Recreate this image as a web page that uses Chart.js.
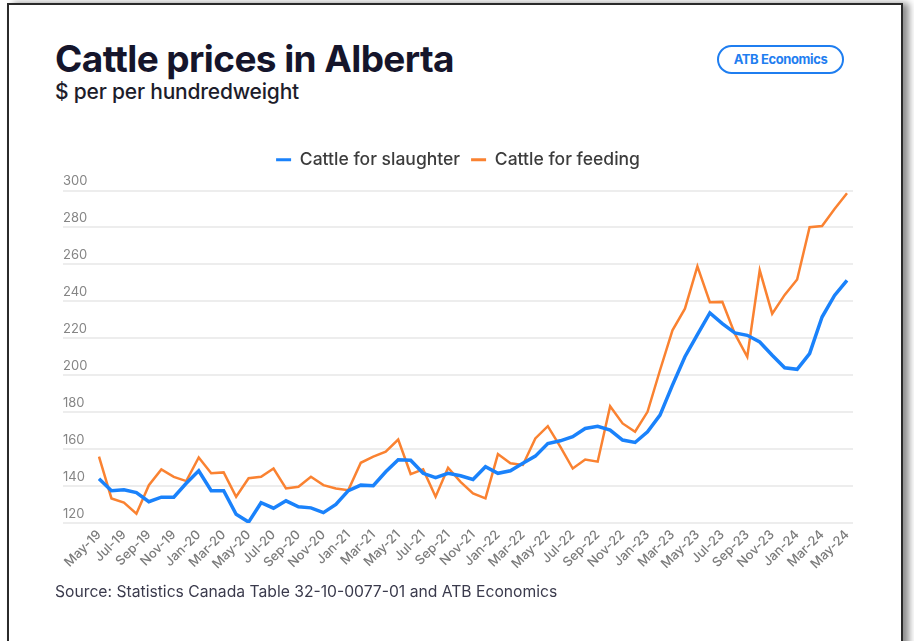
<!DOCTYPE html>
<html><head><meta charset="utf-8">
<script src="https://cdn.jsdelivr.net/npm/chart.js@4.4.1/dist/chart.umd.min.js"></script>
<style>
html,body{margin:0;padding:0;background:#fff;width:914px;height:641px;overflow:hidden;font-family:Inter,'Open Sans',sans-serif;}
#frame{position:absolute;left:7px;top:3px;width:892px;height:700px;border:2px solid #2a2a2a;box-shadow:6px 0 7px rgba(0,0,0,0.45);background:#fff;}
#title{position:absolute;left:55px;top:36px;font-weight:700;font-size:37px;color:#15152b;letter-spacing:-0.6px;white-space:nowrap;}
#subtitle{position:absolute;left:55px;top:79px;font-weight:500;font-size:21px;color:#1d1d2b;white-space:nowrap;letter-spacing:-0.2px;}
#badge{position:absolute;left:717px;top:45px;width:123px;height:25px;border:2px solid #1f7ef0;border-radius:16px;color:#1f7ef0;font-weight:700;font-size:13px;line-height:25px;text-align:center;letter-spacing:-0.4px;}
#source{position:absolute;left:55px;top:582px;font-size:15.7px;color:#3a3a4c;white-space:nowrap;}
#wrap{position:absolute;left:0;top:130px;width:914px;height:460px;}
</style></head>
<body>
<div id="frame"></div>
<div id="title">Cattle prices in Alberta</div>
<div id="subtitle">$ per per hundredweight</div>
<div id="badge">ATB Economics</div>
<div id="wrap"><canvas id="c" width="914" height="460"></canvas></div>
<div id="source">Source: Statistics Canada Table 32-10-0077-01 and ATB Economics</div>
<script>
const months = ['May-19','Jun-19','Jul-19','Aug-19','Sep-19','Oct-19','Nov-19','Dec-19',
'Jan-20','Feb-20','Mar-20','Apr-20','May-20','Jun-20','Jul-20','Aug-20','Sep-20','Oct-20','Nov-20','Dec-20',
'Jan-21','Feb-21','Mar-21','Apr-21','May-21','Jun-21','Jul-21','Aug-21','Sep-21','Oct-21','Nov-21','Dec-21',
'Jan-22','Feb-22','Mar-22','Apr-22','May-22','Jun-22','Jul-22','Aug-22','Sep-22','Oct-22','Nov-22','Dec-22',
'Jan-23','Feb-23','Mar-23','Apr-23','May-23','Jun-23','Jul-23','Aug-23','Sep-23','Oct-23','Nov-23','Dec-23',
'Jan-24','Feb-24','Mar-24','Apr-24','May-24'];
const slaughter = [144,137.5,138,136.5,131.5,134,134,141.5,148.3,137.5,137.5,124.7,120.5,131,128,132,128.8,128.2,125.6,130,
137.5,140.5,140.2,147.7,154.2,154,146.9,144.5,146.9,145.6,143.6,150.5,146.9,148.3,152.3,156.2,163,164.5,166.7,171.2,
172.4,170.3,164.9,163.6,169.4,178.4,194.6,210,222,233.7,227.9,222.9,221.6,218,210.8,204,203.2,211.7,231.5,243.2,251.4];
const feeding = [155.9,133.3,131,125,140.5,149,145,142.7,155.5,146.9,147.4,134.2,144.2,145,149.5,138.7,139.6,145,140.5,138.7,
137.8,152.6,155.9,158.6,165.2,146.5,149,134.2,149.9,142.3,136,133.3,157.3,152.3,151.4,165.8,172.4,161.3,149.5,154.4,
153.2,183.2,173.9,169.4,180.2,202.7,224.3,236,258.9,239.5,239.7,222.5,210,256.8,233.3,243.5,251.8,280.1,280.8,290,298.5];
const yTicks = [120,140,160,180,200,220,240,260,280,300];
const seriesNames = ['Cattle for slaughter','Cattle for feeding'];

const gridColor = '#ededed';
const legendSpacer = {
  id: 'legendSpacer',
  beforeInit(chart) {
    const orig = chart.legend.fit;
    chart.legend.fit = function () { orig.call(this); this.height += 12; };
  }
};

new Chart(document.getElementById('c'), {
  type: 'line',
  data: {
    labels: months,
    datasets: [
      {label: seriesNames[0], data: slaughter, borderColor: '#1a82fb', backgroundColor: '#1a82fb', borderWidth: 3.5, pointRadius: 0, tension: 0},
      {label: seriesNames[1], data: feeding, borderColor: '#fa8231', backgroundColor: '#fa8231', borderWidth: 2.5, pointRadius: 0, tension: 0}
    ]
  },
  plugins: [legendSpacer],
  options: {
    responsive: false,
    animation: false,
    layout: {padding: {left: 63, right: 61, top: 10, bottom: 0}},
    plugins: {
      tooltip: {enabled: false},
      legend: {
        position: 'top',
        labels: {
          boxWidth: 15, boxHeight: 3, padding: 11,
          color: '#3c3c3c',
          font: {family: 'Inter', size: 17.5, weight: '500'},
          generateLabels: (chart) => chart.data.datasets.map((ds, i) => ({
            text: ds.label, fillStyle: ds.borderColor, strokeStyle: ds.borderColor,
            lineWidth: 0, hidden: false, datasetIndex: i, fontColor: '#3c3c3c'
          }))
        }
      }
    },
    scales: {
      x: {
        grid: {display: false, drawTicks: false},
        border: {display: false},
        ticks: {
          autoSkip: false, minRotation: 45, maxRotation: 45, padding: 4,
          color: '#7b7b7b', font: {family: 'Inter', size: 13, weight: '500'},
          callback: (v, i) => (i % 2 === 0 ? months[i] : null)
        },
        afterFit: (s) => { s.height = 67; }
      },
      y: {
        min: 120, max: 300,
        afterBuildTicks: (s) => { s.ticks = yTicks.map(v => ({value: v})); },
        grid: {color: gridColor, lineWidth: 2, tickLength: 36, tickColor: gridColor},
        border: {display: false},
        ticks: {mirror: true, padding: -36, labelOffset: -9, color: '#858585', font: {family: 'Inter', size: 13}},
        afterFit: (s) => { s.width = 36; }
      },
      y2: {
        position: 'right',
        min: 120, max: 300,
        afterBuildTicks: (s) => { s.ticks = yTicks.map(v => ({value: v})); },
        grid: {drawOnChartArea: false, color: gridColor, lineWidth: 2, tickLength: 6, tickColor: gridColor},
        border: {display: false},
        ticks: {display: false},
        afterFit: (s) => { s.width = 6; }
      }
    }
  }
});
</script>
</body></html>
